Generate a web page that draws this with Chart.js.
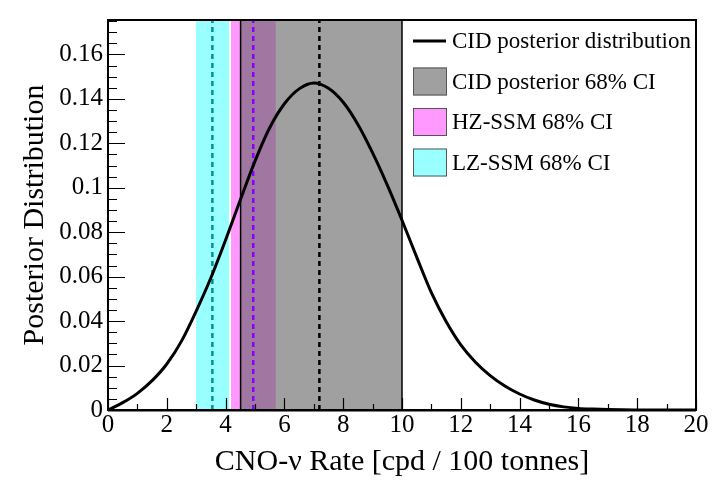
<!DOCTYPE html>
<html>
<head>
<meta charset="utf-8">
<script src="https://cdn.jsdelivr.net/npm/chart.js@4/dist/chart.umd.min.js"></script>
<style>
  html, body { margin: 0; padding: 0; background: #fff; }
</style>
</head>
<body>
<canvas id="chart" width="716" height="480"></canvas>
<script>
// CID posterior of the CNO-nu rate
const rateX = [0, 0.5, 1, 1.5, 2, 2.5, 3, 3.5, 4, 4.5, 5, 5.5, 6, 6.5, 7, 7.5, 8, 8.5, 9, 9.5,
               10, 10.5, 11, 11.5, 12, 12.5, 13, 13.5, 14, 14.5, 15, 15.5, 16, 16.5, 17, 17.5, 18, 19, 20];
const posterior = [0, 0.0033, 0.0075, 0.0132, 0.0207, 0.031, 0.0445, 0.0595, 0.0765, 0.0945, 0.112, 0.127,
                   0.1378, 0.1445, 0.1472, 0.1448, 0.1385, 0.1285, 0.1157, 0.1012,
                   0.0854, 0.0688, 0.0528, 0.0398, 0.0293, 0.0215, 0.0155, 0.0108, 0.0072, 0.0045, 0.0026,
                   0.0014, 0.0007, 0.0004, 0.0002, 0.0001, 0.00005, 0.00001, 0];

// 68% intervals [low, high] and central values
const cidBand = [4.51, 10.0];
const hzBand = [4.18, 5.71];
const lzBand = [2.99, 4.13];
const cidCentral = 7.19;
const hzCentral = 4.94;
const lzCentral = 3.55;

const legendLabels = ["CID posterior distribution", "CID posterior 68% CI", "HZ-SSM 68% CI", "LZ-SSM 68% CI"];

const yMax = 0.1755;
const serif = "'Liberation Serif', 'DejaVu Serif', serif";

const curveData = rateX.map(function (x, i) { return { x: x, y: posterior[i] }; });

function band(range) {
    return [{ x: range[0], y: yMax }, { x: range[1], y: yMax }];
}
function vline(x) {
    return [{ x: x, y: 0 }, { x: x, y: yMax }];
}

// ticks pointing inward + frame
const frameTicks = {
    id: "frameTicks",
    afterDatasetsDraw(chart) {
        const ctx = chart.ctx, a = chart.chartArea;
        const xs = chart.scales.x, ys = chart.scales.y;
        ctx.save();
        ctx.strokeStyle = "#000";
        ctx.lineWidth = 1.2;
        ctx.beginPath();
        for (let v = 0; v <= 20; v++) {
            const px = Math.round(xs.getPixelForValue(v)) + 0.5;
            const len = v % 2 === 0 ? 12 : 6;
            ctx.moveTo(px, a.bottom);
            ctx.lineTo(px, a.bottom - len);
        }
        for (let i = 0; i * 0.005 <= ys.max; i++) {
            const py = Math.round(ys.getPixelForValue(i * 0.005)) + 0.5;
            const len = i % 4 === 0 ? 17 : 9;
            ctx.moveTo(a.left, py);
            ctx.lineTo(a.left + len, py);
        }
        ctx.stroke();
        ctx.lineWidth = 2;
        ctx.strokeRect(a.left, a.top, a.right - a.left, a.bottom - a.top);
        ctx.beginPath();
        ctx.moveTo(a.left, a.bottom + 0.5);
        ctx.lineTo(a.right, a.bottom + 0.5);
        ctx.stroke();
        ctx.restore();
    }
};

const legendSwatches = [null, "#a0a0a0", "#ff99ff", "#99ffff"];

const legendBox = {
    id: "legendBox",
    afterDraw(chart) {
        const ctx = chart.ctx, a = chart.chartArea;
        const x0 = a.right - 283;
        ctx.save();
        ctx.font = "23px " + serif;
        ctx.textBaseline = "middle";
        ctx.fillStyle = "#000";
        legendLabels.forEach(function (label, i) {
            const y = a.top + 21 + i * 40.5;
            if (i === 0) {
                ctx.strokeStyle = "#000";
                ctx.lineWidth = 3;
                ctx.beginPath();
                ctx.moveTo(x0, y);
                ctx.lineTo(x0 + 33, y);
                ctx.stroke();
            } else {
                ctx.fillStyle = legendSwatches[i];
                ctx.fillRect(x0, y - 14, 34, 28);
                ctx.strokeStyle = "#555";
                ctx.lineWidth = 1;
                ctx.strokeRect(x0 + 0.5, y - 13.5, 33, 27);
            }
            ctx.fillStyle = "#000";
            ctx.fillText(label, x0 + 39, y + 1);
        });
        ctx.restore();
    }
};

new Chart(document.getElementById("chart"), {
    type: "line",
    data: {
        datasets: [
            {
                data: curveData,
                borderColor: "#000",
                borderWidth: 3,
                pointRadius: 0,
                cubicInterpolationMode: "monotone",
                fill: false,
                order: 0
            },
            { data: vline(cidCentral), borderColor: "#000", borderWidth: 2.5, borderDash: [5, 4], pointRadius: 0, fill: false, order: 1 },
            { data: vline(hzCentral), borderColor: "#8800ff", borderWidth: 2.5, borderDash: [5, 4], pointRadius: 0, fill: false, order: 1 },
            { data: vline(lzCentral), borderColor: "#009393", borderWidth: 2.5, borderDash: [5, 4], pointRadius: 0, fill: false, order: 1 },
            { data: vline(cidBand[0]), borderColor: "#000", borderWidth: 1.5, pointRadius: 0, fill: false, order: 2 },
            { data: vline(cidBand[1]), borderColor: "#000", borderWidth: 1.5, pointRadius: 0, fill: false, order: 2 },
            { data: band(cidBand), borderWidth: 0, borderColor: "rgba(0,0,0,0)", backgroundColor: "rgba(96,96,96,0.6)", pointRadius: 0, fill: "origin", order: 3 },
            { data: band(hzBand), borderWidth: 0, borderColor: "rgba(0,0,0,0)", backgroundColor: "#ff99ff", pointRadius: 0, fill: "origin", order: 4 },
            { data: band(lzBand), borderWidth: 0, borderColor: "rgba(0,0,0,0)", backgroundColor: "#99ffff", pointRadius: 0, fill: "origin", order: 5 }
        ]
    },
    options: {
        responsive: false,
        animation: false,
        layout: { padding: { top: 8, right: 20, left: 0, bottom: 0 } },
        plugins: {
            legend: { display: false },
            tooltip: { enabled: false }
        },
        scales: {
            x: {
                type: "linear",
                min: 0,
                max: 20,
                grid: { display: false, drawTicks: false },
                border: { display: false },
                ticks: {
                    stepSize: 2,
                    padding: 0,
                    color: "#000",
                    maxRotation: 0,
                    font: { family: serif, size: 25 }
                },
                title: {
                    display: true,
                    text: "CNO-ν Rate [cpd / 100 tonnes]",
                    color: "#000",
                    font: { family: serif, size: 30 },
                    padding: { top: 0, bottom: 0 }
                },
                afterFit: function (scale) { scale.height = 70; }
            },
            y: {
                min: 0,
                max: yMax,
                grid: { display: false, drawTicks: false },
                border: { display: false },
                ticks: {
                    stepSize: 0.02,
                    includeBounds: false,
                    padding: 5,
                    color: "#000",
                    font: { family: serif, size: 25 },
                    callback: function (v) { return String(+v.toFixed(3)); }
                },
                title: {
                    display: true,
                    text: "Posterior Distribution",
                    color: "#000",
                    font: { family: serif, size: 30 },
                    padding: { top: 17, bottom: 0 }
                },
                afterFit: function (scale) { scale.width = 108; }
            }
        }
    },
    plugins: [frameTicks, legendBox]
});
</script>
</body>
</html>
